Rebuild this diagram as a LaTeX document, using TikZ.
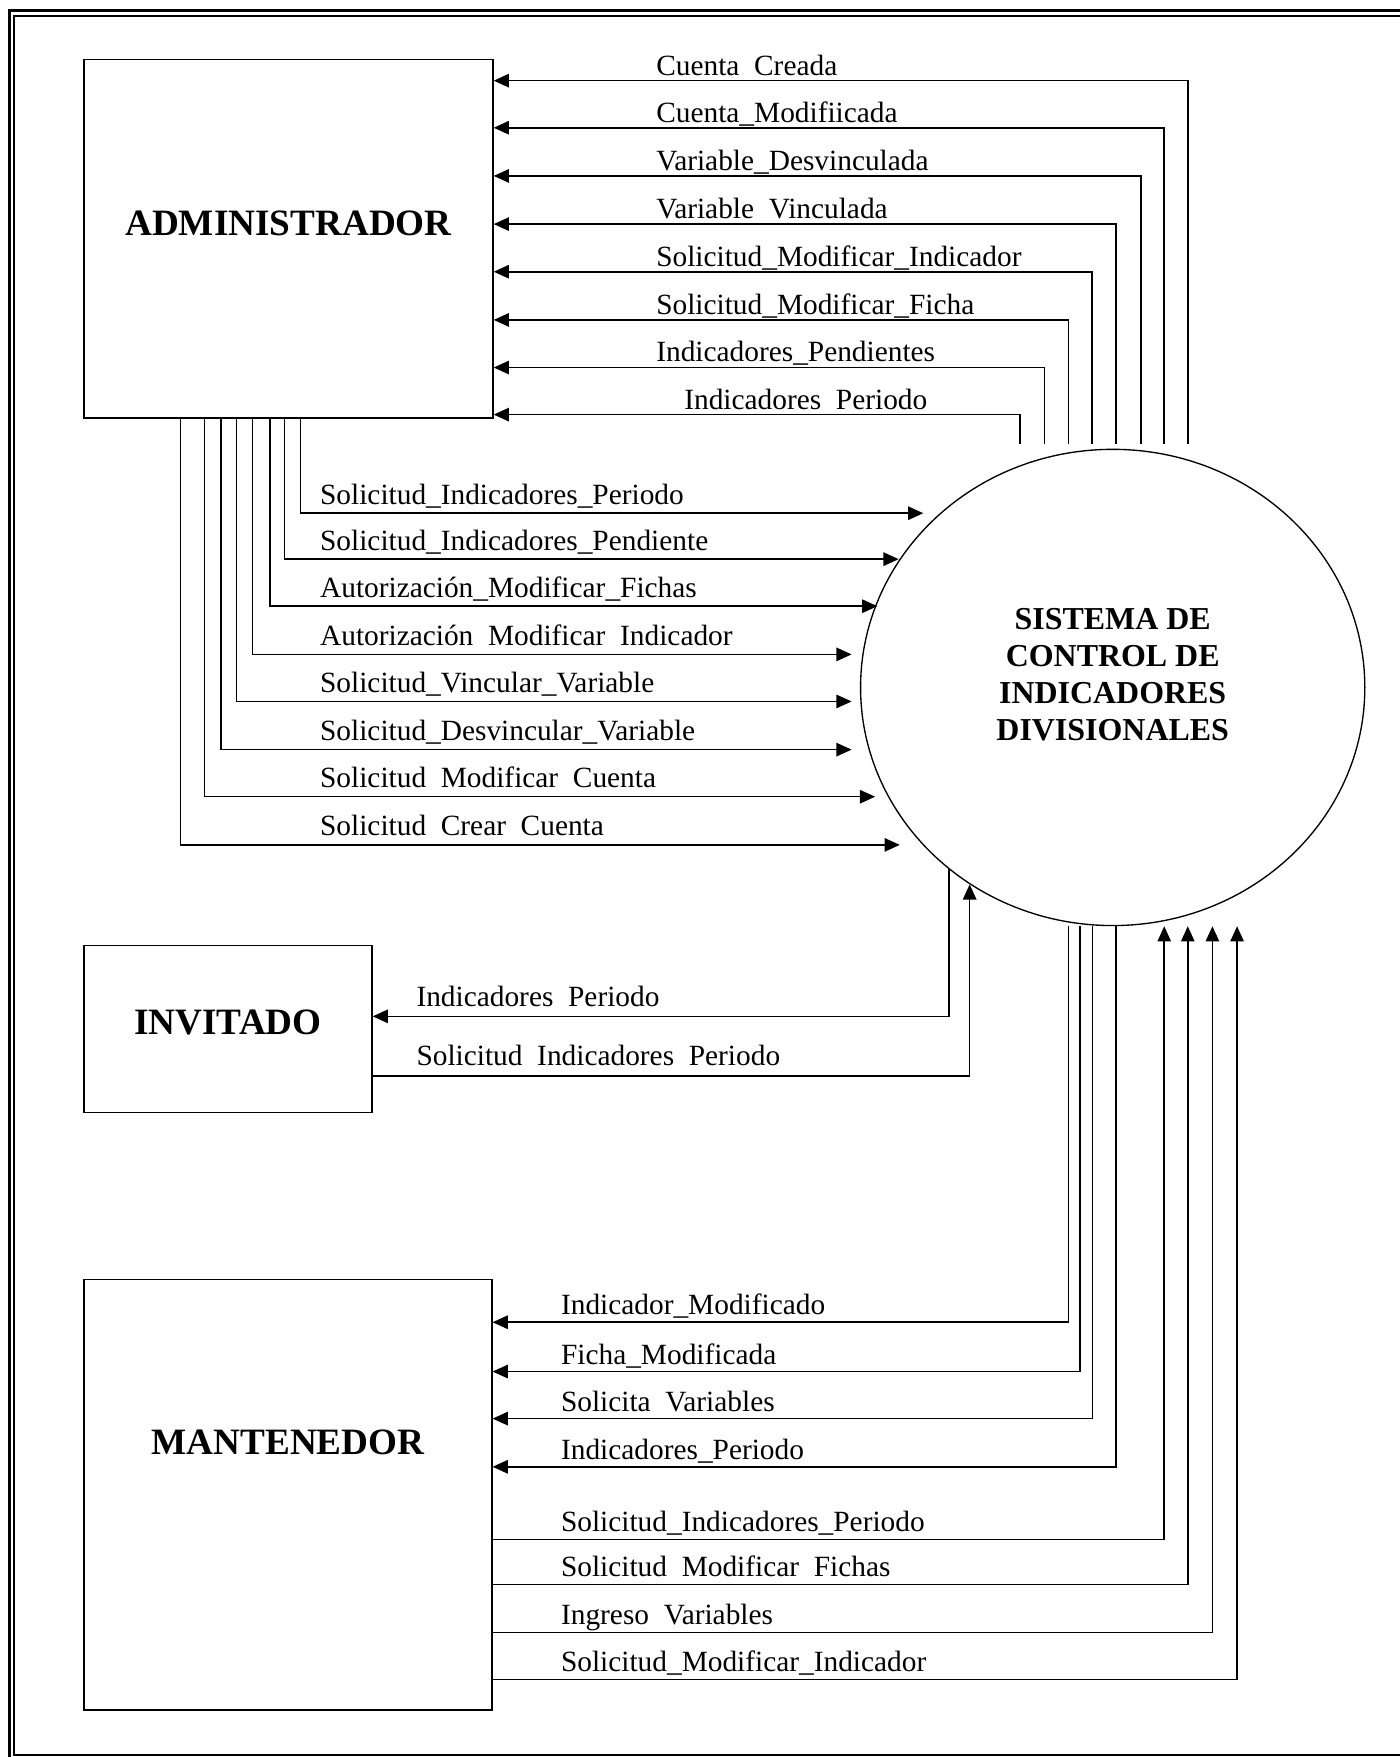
\documentclass[tikz,border=0pt]{standalone}
\usepackage{fontspec}
\setmainfont{Liberation Serif}
\usetikzlibrary{arrows.meta, shapes.geometric}

\newcommand{\gap}{\hspace{0.5em}}

\begin{document}
\begin{tikzpicture}[
                x = 0.5pt, y = -0.5pt, % one unit per pixel, y pointing down
                > = {Triangle[length = 6.8pt, width = 6pt]}, % arrow head style
                line width = 0.7pt % line style
            ]

            \tikzstyle{entity}=[draw = black, rectangle, line width = 0.6pt,
            inner sep = 0pt]
            \tikzstyle{title}=[font = \fontsize{16.6}{19}\selectfont\bfseries]
            \tikzstyle{flow}=[->]
            \tikzstyle{tag}=[inner sep = 0pt, anchor = base west,
            font = \fontsize{13.1}{15.7}\selectfont]

            \useasboundingbox (0,0) rectangle (1249,1568);

            % page border
            \draw[line width = 1.35pt] (8.5,1568) -- (8.5,9.4) -- (1249,9.4);
            \draw[line width = 0.9pt] (1249,1566.5) -- (12.9,1566.5) --
            (12.9,14) -- (1249,14);

            \node (adm) [entity, minimum width = 182.5pt, minimum height = 160pt,
            label = {[title, yshift = 7pt]center:ADMINISTRADOR}] at (257.5,213) {};
            \node (inv) [entity, minimum width = 128.5pt, minimum height = 74.5pt,
            label = {[title, yshift = 3pt]center:INVITADO}] at (203.5,918.5) {};
            \node (man) [entity, minimum width = 182pt, minimum height = 192pt,
            label = {[title, yshift = 23.5pt]center:MANTENEDOR}] at (257,1334) {};
            \node (sys) [draw = black, ellipse, line width = 0.6pt, inner sep = 0pt,
            minimum width = 225pt, minimum height = 212.5pt,
            label = {[align = center, yshift = 5.5pt,
            font = \fontsize{14.25}{16.5}\selectfont\bfseries]center:SISTEMA DE\\
            CONTROL DE\\ INDICADORES\\ DIVISIONALES}] at (993,613.5) {};

            % system -> administrador
            \foreach \x/\y/\lx/\txt in {
                1060/72/585/Cuenta\gap Creada,
                1039/114/585/Cuenta\_Modifiicada,
                1018/157/585/Variable\_Desvinculada,
                996/200/585/Variable\gap Vinculada,
                974.5/242.5/585/Solicitud\_Modificar\_Indicador,
                953.5/285.5/585/Solicitud\_Modificar\_Ficha,
                932/328/585/Indicadores\_Pendientes,
                910.5/370/610/Indicadores\gap Periodo}{
                \draw[flow] ([yshift = 2pt]sys.north -| \x,0) |- (adm.east |- 0,\y);
                \node[tag] at (\lx,\y-5) {\txt};
            }

            % administrador -> system
            \foreach \x/\y/\t/\txt [count = \i] in {
                268/458/824/Solicitud\_Indicadores\_Periodo,
                254/499/802/Solicitud\_Indicadores\_Pendiente,
                241/541/783/Autorización\_Modificar\_Fichas,
                225.5/584/760/Autorización\gap Modificar\gap Indicador,
                211/626/760/Solicitud\_Vincular\_Variable,
                197/669/760/Solicitud\_Desvincular\_Variable,
                182.5/711/781/Solicitud\gap Modificar\gap Cuenta,
                161/754/803/Solicitud\gap Crear\gap Cuenta}{
                \coordinate (in\i) at (\t,\y);
                \draw[flow] (adm.south -| \x,0) |- (in\i);
                \node[tag] at (285,\y-8) {\txt};
            }

            % invitado
            \draw[flow] (sys.228) |- (inv.east |- 0,907);
            \node[tag] at (371,898) {Indicadores\gap Periodo};
            \draw[flow] (inv.east |- 0,960) -| (sys.234.6);
            \node[tag] at (371,951) {Solicitud\gap Indicadores\gap Periodo};

            % system -> mantenedor
            \foreach \x/\y/\txt in {
                953.5/1180/Indicador\_Modificado,
                964/1224/Ficha\_Modificada,
                975/1266/Solicita\gap Variables,
                996/1309/Indicadores\_Periodo}{
                \draw[flow] (sys.south -| \x,0) |- (man.east |- 0,\y);
                \node[tag] at (500,\y-6.5) {\txt};
            }

            % mantenedor -> system
            \foreach \x/\y/\txt in {
                1039/1374/Solicitud\_Indicadores\_Periodo,
                1060/1414/Solicitud\gap Modificar\gap Fichas,
                1082/1457/Ingreso\gap Variables,
                1104/1499/Solicitud\_Modificar\_Indicador}{
                \draw[flow] (man.east |- 0,\y) -| (sys.south -| \x,0);
                \node[tag] at (500,\y-7) {\txt};
            }

        \end{tikzpicture}
\end{document}
